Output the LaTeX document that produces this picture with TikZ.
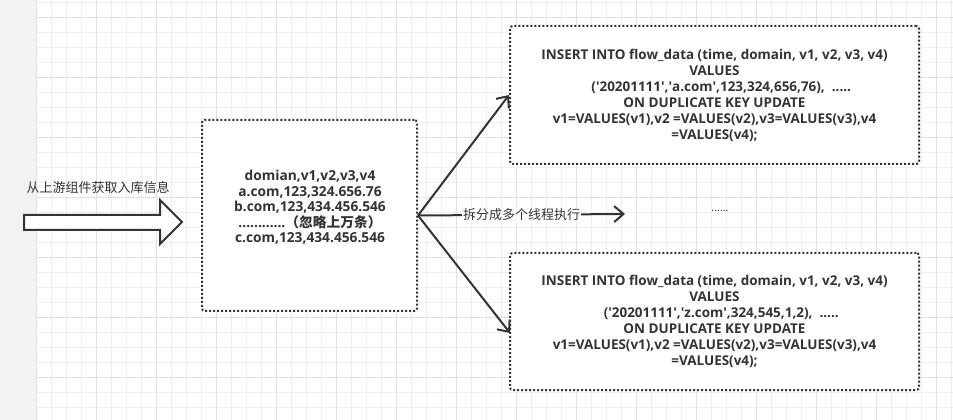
\documentclass[tikz,border=0pt]{standalone}
\usepackage{fontspec}
\setmainfont{Open Sans}
\newfontfamily\cjk{Noto Sans CJK SC}
\usetikzlibrary{arrows.meta}
\definecolor{ink}{HTML}{333333}
\definecolor{strip}{HTML}{F2F2F2}
\definecolor{gridminor}{HTML}{EFEFEF}
\definecolor{gridmajor}{HTML}{E2E2E2}
\tikzset{
	dotbox/.style={draw=ink, fill=white, line width=1.5pt, dash pattern=on 1.5pt off 1.5pt, rounded corners=2pt, align=center, text=ink, font=\bfseries\fontsize{10.1}{12}\selectfont},
	rowtext/.style={align=center, text=ink, font=\bfseries\fontsize{10.3}{11.6}\selectfont},
	cjklabel/.style={text=ink, font=\cjk\fontsize{9.75}{10}\selectfont},
	flow/.style={draw=ink, line width=1.5pt, -{Straight Barb[length=7pt,width=12pt]}}
}

\begin{document}
\begin{tikzpicture}[x=0.75pt,y=-0.75pt]
	\useasboundingbox (0,0) rectangle (953,420);
	\fill[white] (0,0) rectangle (953,420);
	\fill[strip] (0,0) rectangle (36.7,420);
	\foreach \gx in {51.7,66.7,...,953} \draw[gridminor, line width=0.75pt] (\gx,0) -- (\gx,420);
	\foreach \gy in {2.3,17.3,...,420} \draw[gridminor, line width=0.75pt] (36.7,\gy) -- (953,\gy);
	\foreach \gx in {36.7,96.7,...,953} \draw[gridmajor, line width=0.75pt] (\gx,0) -- (\gx,420);
	\foreach \gy in {17.3,77.3,...,420} \draw[gridmajor, line width=0.75pt] (36.7,\gy) -- (953,\gy);

	\draw[ink, fill=white, line width=1.5pt, line join=miter] (24,215) -- (160,215) -- (160,200) -- (182,222) -- (160,244) -- (160,230) -- (24,230) -- cycle;
	\node[cjklabel] (source) at (98,188) {从上游组件获取入库信息};

	\node[dotbox, minimum width=161.25pt, minimum height=143.25pt] (rows) at (309.5,215.5) {};
	\node[rowtext] (rowlines) at (310,207.5) {domian,v1,v2,v3,v4\\a.com,123,324.656.76\\b.com,123,434.456.546\\............{\cjk （忽略上万条）}\\c.com,123,434.456.546};

	\node[dotbox, minimum width=306.75pt, minimum height=103.5pt] (sqla) at (714.5,95) {INSERT INTO flow\_data (time, domain, v1, v2, v3, v4)\\VALUES\\\quad(\textquotesingle20201111\textquotesingle,\textquotesingle a.com\textquotesingle,123,324,656,76),~~.....\\ON DUPLICATE KEY UPDATE\\v1=VALUES(v1),v2 =VALUES(v2),v3=VALUES(v3),v4\\=VALUES(v4);};
	\node[dotbox, minimum width=306.75pt, minimum height=102.75pt] (sqlb) at (714.5,321.5) {INSERT INTO flow\_data (time, domain, v1, v2, v3, v4)\\VALUES\\\quad(\textquotesingle20201111\textquotesingle,\textquotesingle z.com\textquotesingle,324,545,1,2),~~.....\\ON DUPLICATE KEY UPDATE\\v1=VALUES(v1),v2 =VALUES(v2),v3=VALUES(v3),v4\\=VALUES(v4);};

	\coordinate (tipb) at (510,333);
	\coordinate (more) at (625,214);
	\draw[flow] (rows.east) -- (sqla.west);
	\draw[flow] (rows.east) -- (tipb);
	\draw[flow] (rows.east) -- node[cjklabel, fill=white, inner sep=1pt] (split) {拆分成多个线程执行} (more);
	\node[text=ink, font=\fontsize{8}{8}\selectfont] (etc) at (720,211) {......};
\end{tikzpicture}
\end{document}
